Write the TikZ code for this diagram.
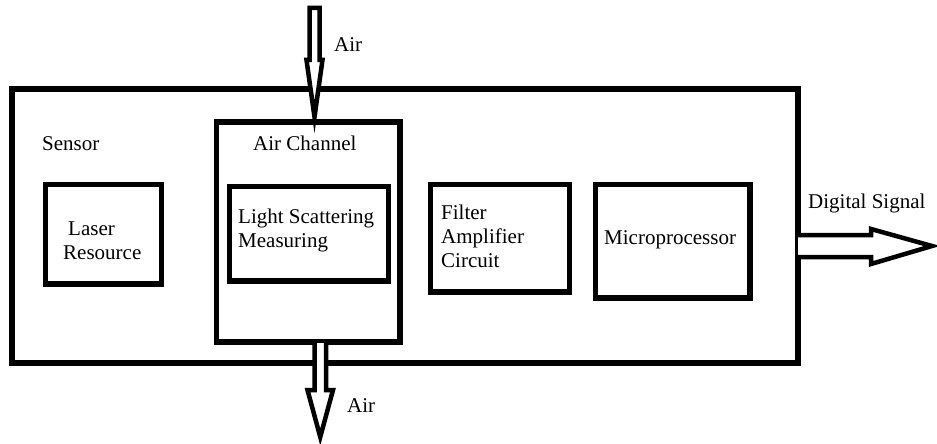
\documentclass[tikz,border=0pt]{standalone}
\usepackage{fontspec}
\setmainfont{Liberation Serif}
\usetikzlibrary{calc}
\begin{document}
\begin{tikzpicture}[x=1pt,y=-1pt,
  box/.style={draw=black,line width=5.5pt,minimum width=#1,inner sep=0pt},
  lbl/.style={inner sep=0pt,anchor=base west,font=\fontsize{21}{24}\selectfont},
  hollow/.style={draw=black,fill=white,line width=4.5pt,line join=miter}]
\useasboundingbox (0,0) rectangle (937,444);
\node[box=786pt,minimum height=274pt] (sensorbox) at (405,226) {};
\node[box=183.5pt,minimum height=220pt] (airch) at (308.25,232) {};
\node[box=159pt,minimum height=94.5pt] (light) at (309,233.75) {};
\node[box=116pt,minimum height=99.5pt] (laser) at (103.5,234.25) {};
\node[box=139pt,minimum height=107.5pt] (filter) at (500,238.25) {};
\node[box=154.5pt,minimum height=113.5pt] (micro) at (672.75,241.25) {};
% labels (multi-line nodes: base is the last line's baseline)
\node[lbl] (tsensor) at (42,150) {Sensor};
\node[lbl] (tairch) at (253,150.5) {Air Channel};
\node[lbl,align=left] (tlight) at (238,247) {Light Scattering\\Measuring};
\node[lbl,align=left] (tlaser) at (63,259) {\hspace{5pt}Laser\\Resource};
\node[lbl,align=left] (tfilter) at (441,267) {Filter\\Amplifier\\Circuit};
\node[lbl] (tmicro) at (604,244) {Microprocessor};
\node[lbl] (tdig) at (808,208) {Digital Signal};
\node[lbl] (tairin) at (334,52) {Air};
\node[lbl] (tairout) at (347,412) {Air};
% hollow arrows
\coordinate (inbase) at (314.5,8);
\coordinate (outbase) at (320.25,343);
\coordinate (sigbase) at (798,246);
\draw[hollow] ($(inbase)+(-5,0)$) -- ++(10,0) -- ++(0,52) -- ++(3,0) -- ($(inbase)+(0,109)$) -- ($(inbase)+(-8,52)$) -- ++(3,0) -- cycle;
\draw[hollow] ($(outbase)+(-5.75,0)$) -- ++(0,47) -- ++(-7,0) -- ($(outbase)+(0,94)$) -- ($(outbase)+(12.75,47)$) -- ++(-7,0) -- ++(0,-47);
\draw[hollow] ($(sigbase)+(0,-11)$) -- ++(73,0) -- ++(0,-6) -- ($(sigbase)+(134,0)$) -- ($(sigbase)+(73,18)$) -- ++(0,-7) -- ++(-73,0);
\end{tikzpicture}
\end{document}
